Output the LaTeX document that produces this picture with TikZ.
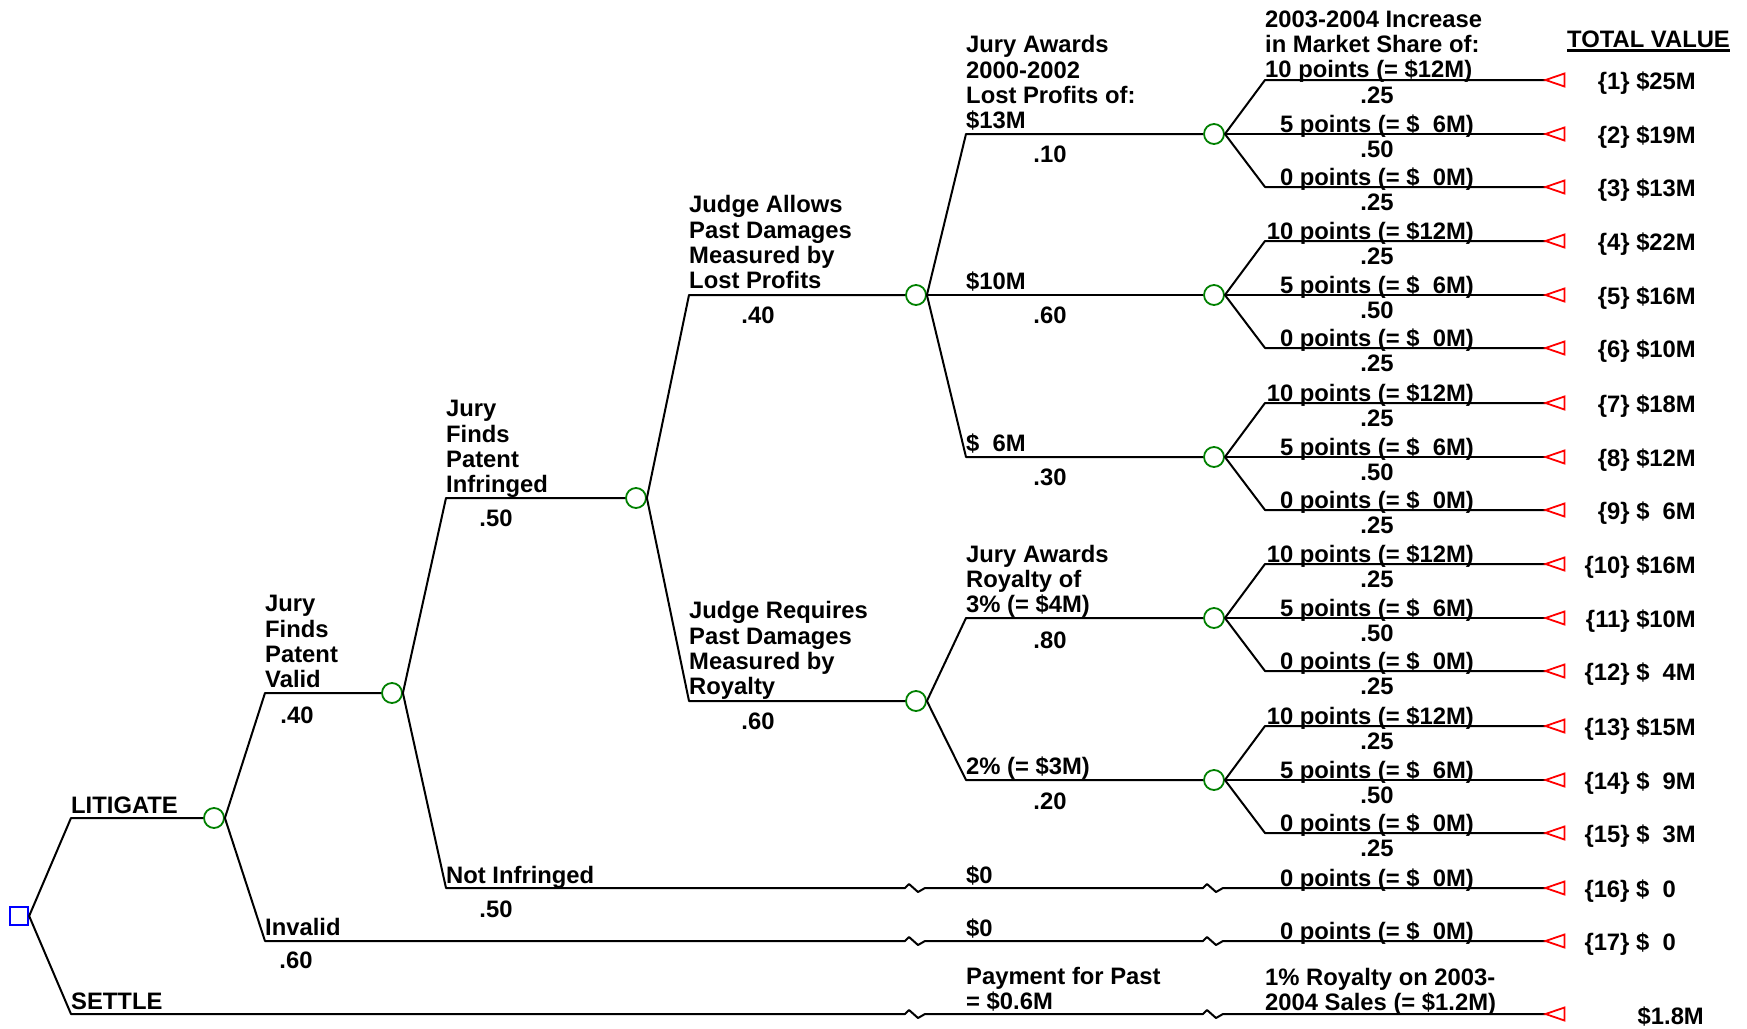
\documentclass[tikz,border=0pt]{standalone}
\usepackage{fontspec}
\setmainfont{Liberation Sans}
\definecolor{dgreen}{RGB}{0,128,0}
\begin{document}
\begin{tikzpicture}[x=1pt,y=-1pt,
  font=\fontsize{23.8pt}{25.4pt}\selectfont\bfseries,
  br/.style={line width=2pt, line join=round},
  chance/.style={circle, draw=dgreen, line width=1.8pt, minimum size=20pt, inner sep=0pt},
  decision/.style={rectangle, draw=blue, line width=1.8pt, minimum size=18.5pt, inner sep=0pt},
  term/.style={draw=red, line width=1.8pt, line join=miter},
  lbl/.style={anchor=south west, inner sep=0pt, text depth=0pt, align=left},
  mlbl/.style={anchor=base east, inner sep=0pt},
  prob/.style={inner sep=0pt},
  val/.style={anchor=base east, inner sep=0pt}]
\useasboundingbox (0,0) rectangle (1747,1028);

% ---------- nodes ----------
\node[decision] (d) at (19,916) {};
\node[chance] (c1) at (214,818) {};
\node[chance] (c2) at (392,693) {};
\node[chance] (c3) at (636,498) {};
\node[chance] (c4) at (916,295) {};
\node[chance] (c5) at (916,701) {};
\node[chance] (m1) at (1214,134) {};
\node[chance] (m2) at (1214,295) {};
\node[chance] (m3) at (1214,457) {};
\node[chance] (m4) at (1214,618) {};
\node[chance] (m5) at (1214,780) {};

% ---------- branch starts ----------
\coordinate (sLit) at (71,818);
\coordinate (sSet) at (71,1014);
\coordinate (sVal) at (265,693);
\coordinate (sInv) at (265,941);
\coordinate (sInf) at (446,498);
\coordinate (sNI) at (446,888);
\coordinate (sLP) at (689,295);
\coordinate (sRo) at (689,701);
\coordinate (s13) at (966,134);
\coordinate (s10) at (966,295);
\coordinate (s6) at (966,457);
\coordinate (s3p) at (966,618);
\coordinate (s2p) at (966,780);
\coordinate (t16) at (1545.5,888);
\coordinate (t17) at (1545.5,941);
\coordinate (t18) at (1545.5,1014);

% ---------- connectors ----------
\draw[br] (d.east) -- (sLit) -- (c1.west);
\draw[br] (d.east) -- (sSet) -- (905,1014) -- (909,1010) -- (918,1018) -- (925,1014)
   -- (1203,1014) -- (1207,1010) -- (1216,1018) -- (1223,1014) -- (t18);
\draw[br] (c1.east) -- (sVal) -- (c2.west);
\draw[br] (c1.east) -- (sInv) -- (905,941) -- (909,937) -- (918,945) -- (925,941)
   -- (1203,941) -- (1207,937) -- (1216,945) -- (1223,941) -- (t17);
\draw[br] (c2.east) -- (sInf) -- (c3.west);
\draw[br] (c2.east) -- (sNI) -- (905,888) -- (909,884) -- (918,892) -- (925,888)
   -- (1203,888) -- (1207,884) -- (1216,892) -- (1223,888) -- (t16);
\draw[br] (c3.east) -- (sLP) -- (c4.west);
\draw[br] (c3.east) -- (sRo) -- (c5.west);
\draw[br] (c4.east) -- (s13) -- (m1.west);
\draw[br] (c4.east) -- (s10) -- (m2.west);
\draw[br] (c4.east) -- (s6) -- (m3.west);
\draw[br] (c5.east) -- (s3p) -- (m4.west);
\draw[br] (c5.east) -- (s2p) -- (m5.west);

% ---------- market share leaves ----------
\foreach \g/\yc in {1/134,2/295,3/457,4/618,5/780}{
  \pgfmathsetmacro\ya{\yc-54}
  \pgfmathsetmacro\yb{\yc+53}
  \coordinate (L\g a) at (1265,\ya);  \coordinate (T\g a) at (1545.5,\ya);
  \coordinate (L\g b) at (1265,\yc);  \coordinate (T\g b) at (1545.5,\yc);
  \coordinate (L\g c) at (1265,\yb);  \coordinate (T\g c) at (1545.5,\yb);
  \draw[br] (m\g.east) -- (L\g a) -- (T\g a);
  \draw[br] (m\g.east) -- (L\g b) -- (T\g b);
  \draw[br] (m\g.east) -- (L\g c) -- (T\g c);
  \ifnum\g>1 \node[mlbl] at (1474,\ya-2) {10 points (= \$12M)}; \fi
  \node[mlbl] at (1474,\yc-2) {5 points (= \$\hphantom{0}6M)};
  \node[mlbl] at (1474,\yb-2) {0 points (= \$\hphantom{0}0M)};
  \node[prob] at (1377,\ya+15) {.25};
  \node[prob] at (1377,\yc+15) {.50};
  \node[prob] at (1377,\yb+15) {.25};
}

% ---------- terminal triangles ----------
\foreach \t in {T1a,T1b,T1c,T2a,T2b,T2c,T3a,T3b,T3c,T4a,T4b,T4c,T5a,T5b,T5c,t16,t17,t18}{
  \draw[term] (\t) -- ++(19,-6.5) -- ++(0,13) -- cycle;
}

% ---------- branch labels ----------
\node[lbl] at (71,814) {LITIGATE};
\node[lbl] at (71,1010) {SETTLE};
\node[lbl] at (265,688) {Jury\\Finds\\Patent\\Valid};
\node[lbl] at (265,936) {Invalid};
\node[lbl] at (446,493) {Jury\\Finds\\Patent\\Infringed};
\node[lbl] at (446,884) {Not Infringed};
\node[lbl] at (689,289) {Judge Allows\\Past Damages\\Measured by\\Lost Profits};
\node[lbl] at (689,695) {Judge Requires\\Past Damages\\Measured by\\Royalty};
\node[lbl] at (966,129) {Jury Awards\\2000-2002\\Lost Profits of:\\\$13M};
\node[lbl] at (966,290) {\$10M};
\node[lbl] at (966,452) {\$\hphantom{0}6M};
\node[lbl] at (966,613) {Jury Awards\\Royalty of\\3\% (= \$4M)};
\node[lbl] at (966,775) {2\% (= \$3M)};
\node[lbl] at (966,884) {\$0};
\node[lbl] at (966,937) {\$0};
\node[lbl] at (966,1010) {Payment for Past\\= \$0.6M};
\node[lbl] at (1265,78) {2003-2004 Increase\\in Market Share of:\\10 points (= \$12M)};
\node[mlbl] at (1474,886) {0 points (= \$\hphantom{0}0M)};
\node[mlbl] at (1474,939) {0 points (= \$\hphantom{0}0M)};
\node[lbl] at (1265,1011) {1\% Royalty on 2003-\\2004 Sales (= \$1.2M)};

% ---------- probabilities ----------
\node[prob] at (297,715) {.40};
\node[prob] at (296,960) {.60};
\node[prob] at (496,518) {.50};
\node[prob] at (496,909) {.50};
\node[prob] at (758,315) {.40};
\node[prob] at (758,721) {.60};
\node[prob] at (1050,154) {.10};
\node[prob] at (1050,315) {.60};
\node[prob] at (1050,477) {.30};
\node[prob] at (1050,640) {.80};
\node[prob] at (1050,801) {.20};

% ---------- total values ----------
\node[anchor=base west, inner sep=0pt] (tv) at (1567,47) {TOTAL VALUE};
\draw[line width=2.4pt] ([yshift=-3.5pt]tv.base west) -- ([yshift=-3.5pt]tv.base east);
\foreach \yy/\v in {80/{\{1\} \$25M}, 134/{\{2\} \$19M}, 187/{\{3\} \$13M},
  241/{\{4\} \$22M}, 295/{\{5\} \$16M}, 348/{\{6\} \$10M},
  403/{\{7\} \$18M}, 457/{\{8\} \$12M}, 510/{\{9\} \$\hphantom{0}6M},
  564/{\{10\} \$16M}, 618/{\{11\} \$10M}, 671/{\{12\} \$\hphantom{0}4M},
  726/{\{13\} \$15M}, 780/{\{14\} \$\hphantom{0}9M}, 833/{\{15\} \$\hphantom{0}3M}}{
  \node[val] at (1696,\yy+9) {\v};
}
\node[val] at (1676,897) {\{16\} \$\hphantom{0}0};
\node[val] at (1676,950) {\{17\} \$\hphantom{0}0};
\node[val] at (1704,1024) {\$1.8M};
\end{tikzpicture}
\end{document}
